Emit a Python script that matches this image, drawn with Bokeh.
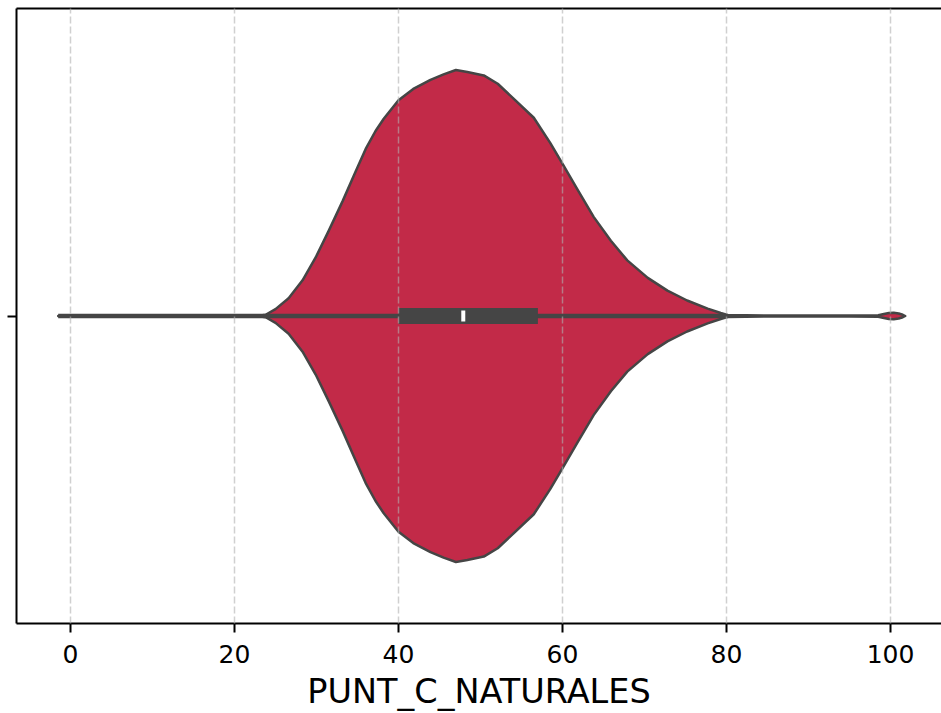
import numpy as np
from bokeh.plotting import figure
from bokeh.models import Range1d, FixedTicker, LinearAxis
from bokeh.embed import file_html
from bokeh.resources import INLINE

# ---- data ----
variable = "PUNT_C_NATURALES"
x_ticks = [0, 20, 40, 60, 80, 100]

# kernel density outline (score value, density relative to the peak)
kde_score = [-1.5, 5, 10, 15, 20, 23.4, 23.8, 25.0, 26.6, 28.3, 29.9, 31.5, 33.2,
             34.8, 36.0, 37.2, 38.2, 40.0, 41.8, 43.9, 45.5, 47.0, 48.4, 50.4,
             52.1, 54.0, 56.5, 58.5, 60.1, 61.8, 63.8, 65.9, 67.9, 70.4, 72.8,
             75.2, 77.7, 79.3, 80.1, 85, 90, 95, 98.5, 99.2, 99.8, 100.4, 101.0,
             101.5, 101.8]
kde_density = [0.0, 0.002, 0.002, 0.002, 0.002, 0.003, 0.005, 0.028, 0.072, 0.145,
               0.238, 0.347, 0.468, 0.589, 0.679, 0.752, 0.802, 0.877, 0.923,
               0.960, 0.982, 1.0, 0.992, 0.978, 0.944, 0.885, 0.806, 0.704,
               0.613, 0.516, 0.403, 0.306, 0.226, 0.155, 0.103, 0.063, 0.030,
               0.012, 0.004, 0.002, 0.002, 0.002, 0.003, 0.008, 0.012, 0.013,
               0.010, 0.005, 0.0]

q1, median, q3 = 40.0, 47.9, 57.0
whisker_lo, whisker_hi = -1.5, 80.2

# ---- styling ----
FILL = "#C22A48"
GRAY = "#454545"
FONT = "DejaVu Sans"
HALF_WIDTH = 0.4  # violin half width in category units

p = figure(width=941, height=713, output_backend="svg", toolbar_location=None,
           x_range=Range1d(-6.585, 106.22), y_range=Range1d(-0.5, 0.5),
           min_border_left=16, min_border_right=0, min_border_top=8,
           min_border_bottom=89)
p.outline_line_color = None
p.background_fill_color = "white"
p.border_fill_color = "white"

# violin body
xs = np.array(kde_score, dtype=float)
d = np.array(kde_density, dtype=float) * HALF_WIDTH
px = np.concatenate([xs, xs[::-1]])
py = np.concatenate([d, -d[::-1]])
p.patch(px, py, fill_color=FILL, line_color=GRAY, line_width=2.5,
        line_join="round")

# inner box
p.segment(x0=[whisker_lo], y0=[0], x1=[whisker_hi], y1=[0], line_color=GRAY,
          line_width=4.5)
p.rect(x=[(q1 + q3) / 2], y=[0], width=[q3 - q1], height=16, height_units="screen",
       fill_color=GRAY, line_color=None)
p.rect(x=[median], y=[0], width=4, height=11, width_units="screen",
       height_units="screen", fill_color="white", line_color=None)

# grid
p.ygrid.visible = False
p.xgrid.ticker = FixedTicker(ticks=x_ticks)
p.xgrid.grid_line_color = "#b0b0b0"
p.xgrid.grid_line_alpha = 0.6
p.xgrid.grid_line_width = 1.5
p.xgrid.grid_line_dash = "7 3"
p.xgrid.level = "overlay"

# x axis
xa = p.xaxis[0]
xa.ticker = FixedTicker(ticks=x_ticks)
xa.axis_line_width = 2
xa.axis_line_color = "black"
xa.major_tick_line_width = 2
xa.major_tick_line_color = "black"
xa.major_tick_out = 9
xa.major_tick_in = 0
xa.minor_tick_line_color = None
xa.major_label_text_font = FONT
xa.major_label_text_font_size = "25px"
xa.major_label_text_color = "black"
xa.major_label_standoff = 12
xa.axis_label = variable
xa.axis_label_text_font = FONT
xa.axis_label_text_font_size = "33.5px"
xa.axis_label_text_font_style = "normal"
xa.axis_label_text_color = "black"
xa.axis_label_standoff = 6

# y axis (single unlabeled tick)
ya = p.yaxis[0]
ya.ticker = FixedTicker(ticks=[0])
ya.axis_line_width = 2
ya.axis_line_color = "black"
ya.major_tick_line_width = 2
ya.major_tick_line_color = "black"
ya.major_tick_out = 9
ya.major_tick_in = 0
ya.minor_tick_line_color = None
ya.major_label_overrides = {0: ""}
ya.major_label_standoff = 0

# top spine
top = LinearAxis(ticker=FixedTicker(ticks=[]), axis_line_width=2,
                 axis_line_color="black", major_tick_out=0, major_tick_in=0,
                 minor_tick_out=0, minor_tick_in=0, major_label_standoff=0)
p.add_layout(top, "above")

open("out.html", "w").write(file_html(p, INLINE))
